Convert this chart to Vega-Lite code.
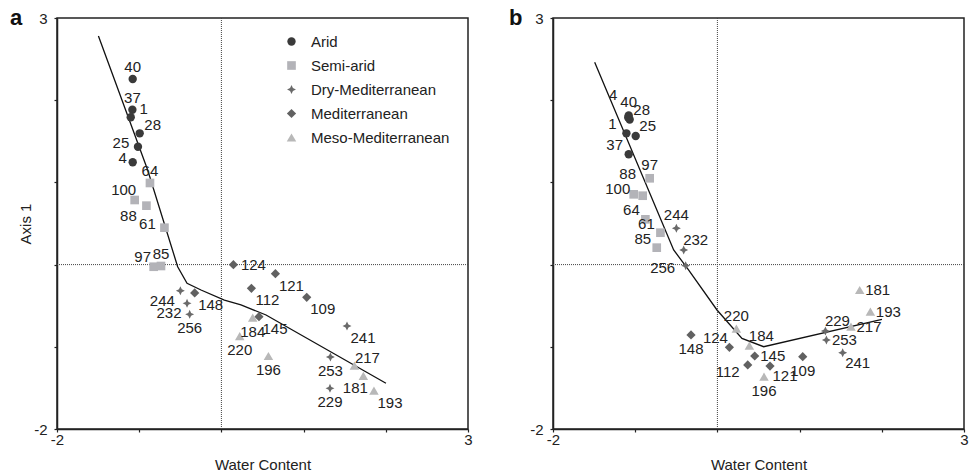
{
  "$schema": "https://vega.github.io/schema/vega-lite/v6.json",
  "background": "white",
  "padding": {"left": 9, "top": 6, "right": 0, "bottom": 0},
  "config": {
    "font": "Liberation Sans",
    "view": {"stroke": "#222", "strokeWidth": 1.5},
    "axis": {"domainColor": "#222", "domainWidth": 1.5, "tickColor": "#222", "tickWidth": 1.2, "tickSize": 3, "grid": false, "labelFont": "Liberation Sans", "labelFontSize": 15, "labelColor": "#222", "titleFont": "Liberation Sans", "titleFontSize": 15, "titleFontWeight": "normal", "titleColor": "#222"},
    "text": {"font": "Liberation Sans", "fontSize": 15, "color": "#222"},
    "concat": {"spacing": 35}
  },
  "datasets": {
    "a": [
      {"id": 40, "Type": "Arid", "x": -1.079, "y": 2.258},
      {"id": 37, "Type": "Arid", "x": -1.083, "y": 1.884},
      {"id": 1, "Type": "Arid", "x": -1.103, "y": 1.792},
      {"id": 28, "Type": "Arid", "x": -0.994, "y": 1.597},
      {"id": 25, "Type": "Arid", "x": -1.015, "y": 1.434},
      {"id": 4, "Type": "Arid", "x": -1.079, "y": 1.245},
      {"id": 64, "Type": "Semi-arid", "x": -0.869, "y": 0.993},
      {"id": 100, "Type": "Semi-arid", "x": -1.055, "y": 0.786},
      {"id": 88, "Type": "Semi-arid", "x": -0.912, "y": 0.717},
      {"id": 61, "Type": "Semi-arid", "x": -0.693, "y": 0.449},
      {"id": 97, "Type": "Semi-arid", "x": -0.824, "y": -0.026},
      {"id": 85, "Type": "Semi-arid", "x": -0.735, "y": -0.017},
      {"id": 244, "Type": "Dry-Mediterranean", "x": -0.499, "y": -0.318},
      {"id": 232, "Type": "Dry-Mediterranean", "x": -0.418, "y": -0.471},
      {"id": 256, "Type": "Dry-Mediterranean", "x": -0.386, "y": -0.605},
      {"id": 241, "Type": "Dry-Mediterranean", "x": 1.528, "y": -0.747},
      {"id": 253, "Type": "Dry-Mediterranean", "x": 1.326, "y": -1.124},
      {"id": 229, "Type": "Dry-Mediterranean", "x": 1.321, "y": -1.505},
      {"id": 124, "Type": "Mediterranean", "x": 0.146, "y": -0.001},
      {"id": 121, "Type": "Mediterranean", "x": 0.657, "y": -0.111},
      {"id": 148, "Type": "Mediterranean", "x": -0.325, "y": -0.345},
      {"id": 112, "Type": "Mediterranean", "x": 0.365, "y": -0.288},
      {"id": 109, "Type": "Mediterranean", "x": 1.038, "y": -0.398},
      {"id": 145, "Type": "Mediterranean", "x": 0.457, "y": -0.634},
      {"id": 184, "Type": "Meso-Mediterranean", "x": 0.381, "y": -0.646},
      {"id": 220, "Type": "Meso-Mediterranean", "x": 0.223, "y": -0.869},
      {"id": 196, "Type": "Meso-Mediterranean", "x": 0.572, "y": -1.112},
      {"id": 217, "Type": "Meso-Mediterranean", "x": 1.618, "y": -1.23},
      {"id": 181, "Type": "Meso-Mediterranean", "x": 1.727, "y": -1.355},
      {"id": 193, "Type": "Meso-Mediterranean", "x": 1.856, "y": -1.534}
    ],
    "b": [
      {"id": 40, "Type": "Arid", "x": -1.079, "y": 1.814},
      {"id": 28, "Type": "Arid", "x": -1.067, "y": 1.765},
      {"id": 4, "Type": "Arid", "x": -1.085, "y": 1.79},
      {"id": 1, "Type": "Arid", "x": -1.107, "y": 1.597},
      {"id": 25, "Type": "Arid", "x": -0.994, "y": 1.564},
      {"id": 37, "Type": "Arid", "x": -1.079, "y": 1.342},
      {"id": 97, "Type": "Semi-arid", "x": -0.824, "y": 1.05},
      {"id": 100, "Type": "Semi-arid", "x": -1.018, "y": 0.855},
      {"id": 88, "Type": "Semi-arid", "x": -0.909, "y": 0.838},
      {"id": 64, "Type": "Semi-arid", "x": -0.876, "y": 0.551},
      {"id": 61, "Type": "Semi-arid", "x": -0.693, "y": 0.388},
      {"id": 85, "Type": "Semi-arid", "x": -0.738, "y": 0.206},
      {"id": 244, "Type": "Dry-Mediterranean", "x": -0.499, "y": 0.442},
      {"id": 232, "Type": "Dry-Mediterranean", "x": -0.41, "y": 0.178},
      {"id": 256, "Type": "Dry-Mediterranean", "x": -0.386, "y": -0.013},
      {"id": 229, "Type": "Dry-Mediterranean", "x": 1.314, "y": -0.808},
      {"id": 253, "Type": "Dry-Mediterranean", "x": 1.326, "y": -0.917},
      {"id": 241, "Type": "Dry-Mediterranean", "x": 1.524, "y": -1.072},
      {"id": 124, "Type": "Mediterranean", "x": 0.146, "y": -1.006},
      {"id": 145, "Type": "Mediterranean", "x": 0.454, "y": -1.112},
      {"id": 112, "Type": "Mediterranean", "x": 0.369, "y": -1.221},
      {"id": 121, "Type": "Mediterranean", "x": 0.64, "y": -1.234},
      {"id": 109, "Type": "Mediterranean", "x": 1.038, "y": -1.12},
      {"id": 148, "Type": "Mediterranean", "x": -0.321, "y": -0.856},
      {"id": 181, "Type": "Meso-Mediterranean", "x": 1.731, "y": -0.309},
      {"id": 193, "Type": "Meso-Mediterranean", "x": 1.861, "y": -0.573},
      {"id": 217, "Type": "Meso-Mediterranean", "x": 1.625, "y": -0.755},
      {"id": 220, "Type": "Meso-Mediterranean", "x": 0.231, "y": -0.78},
      {"id": 184, "Type": "Meso-Mediterranean", "x": 0.389, "y": -0.987},
      {"id": 196, "Type": "Meso-Mediterranean", "x": 0.567, "y": -1.364}
    ],
    "lineA": [
      {"x": -1.496, "y": 2.78},
      {"x": -0.897, "y": 1.151},
      {"x": -0.532, "y": -0.026},
      {"x": -0.418, "y": -0.227},
      {"x": -0.248, "y": -0.309},
      {"x": 0.036, "y": -0.431},
      {"x": 0.238, "y": -0.491},
      {"x": 0.543, "y": -0.613},
      {"x": 2.002, "y": -1.444}
    ],
    "lineB": [
      {"x": -1.493, "y": 2.461},
      {"x": -0.532, "y": 0.178},
      {"x": -0.349, "y": -0.066},
      {"x": -0.005, "y": -0.552},
      {"x": 0.299, "y": -0.897},
      {"x": 0.563, "y": -0.999},
      {"x": 2.002, "y": -0.665}
    ],
    "zero": [{"v": 0, "lo": -2, "hi": 3}]
  },
  "resolve": {"scale": {"color": "independent", "shape": "independent", "size": "independent"}},
  "hconcat": [
    {
      "width": 411,
      "height": 411,
      "encoding": {
        "x": {"field": "x", "type": "quantitative", "scale": {"domain": [-2, 3], "nice": false, "zero": false}, "axis": {"values": [-2, -1, 0, 1, 2, 3], "labelExpr": "datum.value == -2 ? '-2' : (datum.value == 3 ? '3' : '')", "title": "Water Content", "labelPadding": 0, "titlePadding": 10, "labelFlush": false}},
        "y": {"field": "y", "type": "quantitative", "scale": {"domain": [-2, 3], "nice": false, "zero": false}, "axis": {"values": [-2, -1, 0, 1, 2, 3], "labelExpr": "datum.value == -2 ? '-2' : (datum.value == 3 ? '3' : '')", "title": "Axis 1", "labelPadding": 7, "titlePadding": 0, "labelFlush": false}}
      },
      "layer": [
        {
          "data": {"name": "zero"},
          "mark": {"type": "rule", "color": "#444", "strokeWidth": 1, "strokeDash": [1, 1]},
          "encoding": {"x": {"field": "v", "type": "quantitative"}, "y": {"field": "lo", "type": "quantitative"}, "y2": {"field": "hi"}}
        },
        {
          "data": {"name": "zero"},
          "mark": {"type": "rule", "color": "#444", "strokeWidth": 1, "strokeDash": [1, 1]},
          "encoding": {"y": {"field": "v", "type": "quantitative"}, "x": {"field": "lo", "type": "quantitative"}, "x2": {"field": "hi"}}
        },
        {
          "data": {"name": "zero"},
          "mark": {"type": "text", "text": "a", "fontSize": 22, "fontWeight": "bold", "align": "left", "baseline": "alphabetic", "dx": -47, "dy": 7, "color": "#111"},
          "encoding": {"x": {"field": "lo", "type": "quantitative"}, "y": {"field": "hi", "type": "quantitative"}}
        },
        {"data": {"name": "lineA"}, "mark": {"type": "line", "color": "#111", "strokeWidth": 1.3}},
        {
          "data": {"name": "a"},
          "mark": {"type": "point", "filled": true, "opacity": 1, "strokeWidth": 0},
          "encoding": {
            "color": {"field": "Type", "type": "nominal", "scale": {"domain": ["Arid", "Semi-arid", "Dry-Mediterranean", "Mediterranean", "Meso-Mediterranean"], "range": ["#3a3a3a", "#b3b3b8", "#6a6a6a", "#616161", "#b8b8b8"]}, "legend": {"orient": "none", "legendX": 227, "legendY": 16, "title": null, "labelFontSize": 15, "labelFont": "Liberation Sans", "labelColor": "#222", "symbolSize": 170, "rowPadding": 8, "labelOffset": 12, "padding": 0, "symbolStrokeWidth": 0, "symbolOpacity": 1}},
            "shape": {"field": "Type", "type": "nominal", "scale": {"domain": ["Arid", "Semi-arid", "Dry-Mediterranean", "Mediterranean", "Meso-Mediterranean"], "range": ["circle", "square", "M0,-1L0.32,-0.32L1,0L0.32,0.32L0,1L-0.32,0.32L-1,0L-0.32,-0.32Z", "diamond", "triangle-up"]}, "legend": {"orient": "none", "legendX": 227, "legendY": 16, "title": null, "labelFontSize": 15, "labelFont": "Liberation Sans", "labelColor": "#222", "symbolSize": 170, "rowPadding": 8, "labelOffset": 12, "padding": 0, "symbolStrokeWidth": 0, "symbolOpacity": 1}},
            "size": {"field": "Type", "type": "nominal", "scale": {"domain": ["Arid", "Semi-arid", "Dry-Mediterranean", "Mediterranean", "Meso-Mediterranean"], "range": [70, 90, 115, 90, 100]}, "legend": null}
          }
        },
        {"data": {"name": "a"}, "transform": [{"filter": {"field": "id", "oneOf": [40, 37, 64, 85]}}], "mark": {"type": "text", "dx": 0, "dy": -12}, "encoding": {"text": {"field": "id"}}},
        {"data": {"name": "a"}, "transform": [{"filter": {"field": "id", "oneOf": [256, 184, 220, 196, 253, 229]}}], "mark": {"type": "text", "dx": 0, "dy": 14}, "encoding": {"text": {"field": "id"}}},
        {"data": {"name": "a"}, "transform": [{"filter": {"field": "id", "oneOf": [1, 28, 217]}}], "mark": {"type": "text", "dx": 13, "dy": -8}, "encoding": {"text": {"field": "id"}}},
        {"data": {"name": "a"}, "transform": [{"filter": {"field": "id", "oneOf": [25, 61]}}], "mark": {"type": "text", "dx": -17, "dy": -4}, "encoding": {"text": {"field": "id"}}},
        {"data": {"name": "a"}, "transform": [{"filter": {"field": "id", "oneOf": [100, 97]}}], "mark": {"type": "text", "dx": -11, "dy": -10}, "encoding": {"text": {"field": "id"}}},
        {"data": {"name": "a"}, "transform": [{"filter": {"field": "id", "oneOf": [4]}}], "mark": {"type": "text", "dx": -10, "dy": -4}, "encoding": {"text": {"field": "id"}}},
        {"data": {"name": "a"}, "transform": [{"filter": {"field": "id", "oneOf": [88, 244, 232]}}], "mark": {"type": "text", "dx": -18, "dy": 10}, "encoding": {"text": {"field": "id"}}},
        {"data": {"name": "a"}, "transform": [{"filter": {"field": "id", "oneOf": [181]}}], "mark": {"type": "text", "dx": -8, "dy": 12}, "encoding": {"text": {"field": "id"}}},
        {"data": {"name": "a"}, "transform": [{"filter": {"field": "id", "oneOf": [124]}}], "mark": {"type": "text", "dx": 20, "dy": 0}, "encoding": {"text": {"field": "id"}}},
        {"data": {"name": "a"}, "transform": [{"filter": {"field": "id", "oneOf": [148, 121, 112, 109, 145, 241, 193]}}], "mark": {"type": "text", "dx": 16, "dy": 12}, "encoding": {"text": {"field": "id"}}}
      ]
    },
    {
      "width": 411,
      "height": 411,
      "encoding": {
        "x": {"field": "x", "type": "quantitative", "scale": {"domain": [-2, 3], "nice": false, "zero": false}, "axis": {"values": [-2, -1, 0, 1, 2, 3], "labelExpr": "datum.value == -2 ? '-2' : (datum.value == 3 ? '3' : '')", "title": "Water Content", "labelPadding": 0, "titlePadding": 10, "labelFlush": false}},
        "y": {"field": "y", "type": "quantitative", "scale": {"domain": [-2, 3], "nice": false, "zero": false}, "axis": {"values": [-2, -1, 0, 1, 2, 3], "labelExpr": "datum.value == -2 ? '-2' : (datum.value == 3 ? '3' : '')", "title": null, "labelPadding": 7, "labelFlush": false}}
      },
      "layer": [
        {
          "data": {"name": "zero"},
          "mark": {"type": "rule", "color": "#444", "strokeWidth": 1, "strokeDash": [1, 1]},
          "encoding": {"x": {"field": "v", "type": "quantitative"}, "y": {"field": "lo", "type": "quantitative"}, "y2": {"field": "hi"}}
        },
        {
          "data": {"name": "zero"},
          "mark": {"type": "rule", "color": "#444", "strokeWidth": 1, "strokeDash": [1, 1]},
          "encoding": {"y": {"field": "v", "type": "quantitative"}, "x": {"field": "lo", "type": "quantitative"}, "x2": {"field": "hi"}}
        },
        {
          "data": {"name": "zero"},
          "mark": {"type": "text", "text": "b", "fontSize": 22, "fontWeight": "bold", "align": "left", "baseline": "alphabetic", "dx": -44, "dy": 7, "color": "#111"},
          "encoding": {"x": {"field": "lo", "type": "quantitative"}, "y": {"field": "hi", "type": "quantitative"}}
        },
        {"data": {"name": "lineB"}, "mark": {"type": "line", "color": "#111", "strokeWidth": 1.3}},
        {
          "data": {"name": "b"},
          "mark": {"type": "point", "filled": true, "opacity": 1, "strokeWidth": 0},
          "encoding": {
            "color": {"field": "Type", "type": "nominal", "scale": {"domain": ["Arid", "Semi-arid", "Dry-Mediterranean", "Mediterranean", "Meso-Mediterranean"], "range": ["#3a3a3a", "#b3b3b8", "#6a6a6a", "#616161", "#b8b8b8"]}, "legend": null},
            "shape": {"field": "Type", "type": "nominal", "scale": {"domain": ["Arid", "Semi-arid", "Dry-Mediterranean", "Mediterranean", "Meso-Mediterranean"], "range": ["circle", "square", "M0,-1L0.32,-0.32L1,0L0.32,0.32L0,1L-0.32,0.32L-1,0L-0.32,-0.32Z", "diamond", "triangle-up"]}, "legend": null},
            "size": {"field": "Type", "type": "nominal", "scale": {"domain": ["Arid", "Semi-arid", "Dry-Mediterranean", "Mediterranean", "Meso-Mediterranean"], "range": [70, 90, 115, 90, 100]}, "legend": null}
          }
        },
        {"data": {"name": "b"}, "transform": [{"filter": {"field": "id", "oneOf": [40, 97, 244, 220]}}], "mark": {"type": "text", "dx": 0, "dy": -13}, "encoding": {"text": {"field": "id"}}},
        {"data": {"name": "b"}, "transform": [{"filter": {"field": "id", "oneOf": [196, 109, 148]}}], "mark": {"type": "text", "dx": 0, "dy": 14}, "encoding": {"text": {"field": "id"}}},
        {"data": {"name": "b"}, "transform": [{"filter": {"field": "id", "oneOf": [181, 193, 253, 145, 217]}}], "mark": {"type": "text", "dx": 18, "dy": 0}, "encoding": {"text": {"field": "id"}}},
        {"data": {"name": "b"}, "transform": [{"filter": {"field": "id", "oneOf": [28, 25, 229, 232, 184]}}], "mark": {"type": "text", "dx": 12, "dy": -10}, "encoding": {"text": {"field": "id"}}},
        {"data": {"name": "b"}, "transform": [{"filter": {"field": "id", "oneOf": [1, 37, 64, 61, 85, 124]}}], "mark": {"type": "text", "dx": -14, "dy": -9}, "encoding": {"text": {"field": "id"}}},
        {"data": {"name": "b"}, "transform": [{"filter": {"field": "id", "oneOf": [100]}}], "mark": {"type": "text", "dx": -16, "dy": -5}, "encoding": {"text": {"field": "id"}}},
        {"data": {"name": "b"}, "transform": [{"filter": {"field": "id", "oneOf": [4, 88]}}], "mark": {"type": "text", "dx": -15, "dy": -22}, "encoding": {"text": {"field": "id"}}},
        {"data": {"name": "b"}, "transform": [{"filter": {"field": "id", "oneOf": [256]}}], "mark": {"type": "text", "dx": -23, "dy": 2}, "encoding": {"text": {"field": "id"}}},
        {"data": {"name": "b"}, "transform": [{"filter": {"field": "id", "oneOf": [241, 121]}}], "mark": {"type": "text", "dx": 15, "dy": 10}, "encoding": {"text": {"field": "id"}}},
        {"data": {"name": "b"}, "transform": [{"filter": {"field": "id", "oneOf": [112]}}], "mark": {"type": "text", "dx": -20, "dy": 7}, "encoding": {"text": {"field": "id"}}}
      ]
    }
  ]
}
